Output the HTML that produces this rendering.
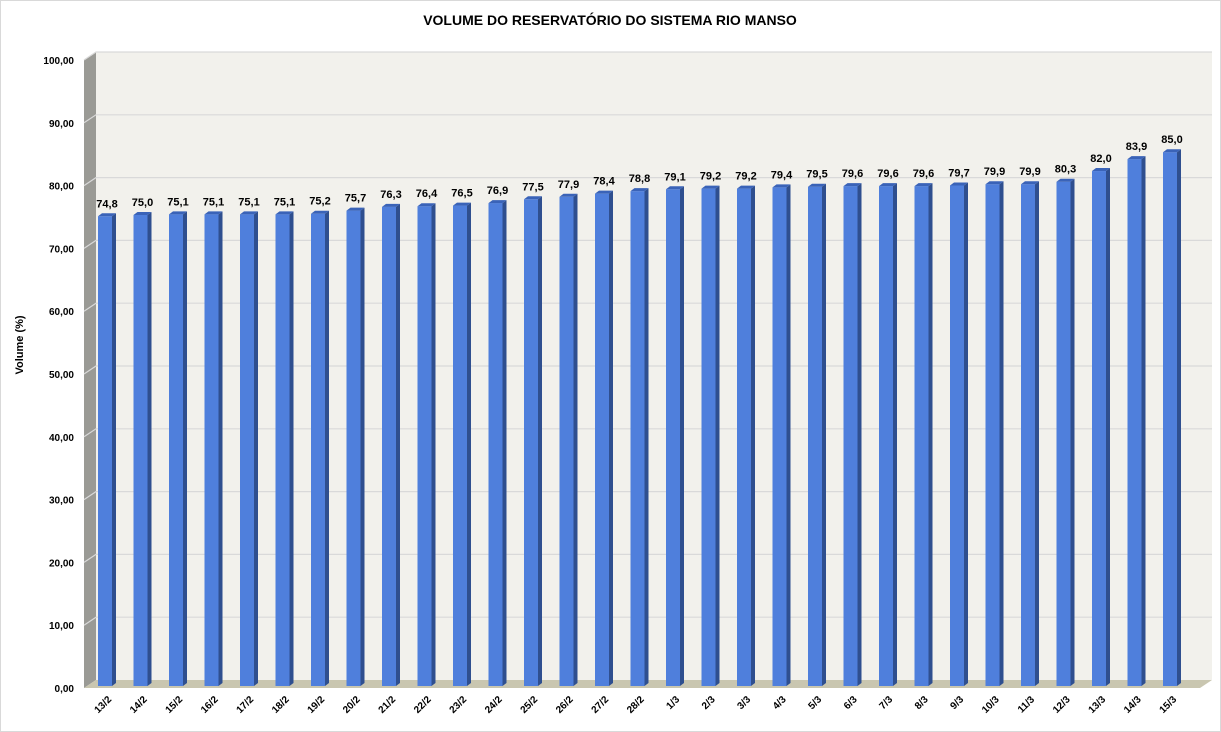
<!DOCTYPE html>
<html><head><meta charset="utf-8"><style>
body{margin:0;background:#fff}
svg{display:block;font-family:"Liberation Sans",sans-serif}
</style></head><body>
<svg width="1221" height="732" viewBox="0 0 1221 732">
<rect x="0.5" y="0.5" width="1220" height="731" fill="#fff" stroke="#d9d9d9"/>
<text x="610" y="25" text-anchor="middle" font-size="14" font-weight="bold">VOLUME DO RESERVATÓRIO DO SISTEMA RIO MANSO</text>
<text transform="translate(23,345) rotate(-90)" text-anchor="middle" font-size="11" font-weight="bold">Volume (%)</text>
<!-- back wall -->
<rect x="96" y="52" width="1116" height="628" fill="#f2f1ec"/>
<!-- side wall -->
<polygon points="84,60 96,52 96,680 84,688" fill="#9a9a95"/>
<!-- floor -->
<polygon points="84,688 96,680 1212,680 1200,688" fill="#c9c6b0"/>
<g id="grid" stroke="#d9d9d9" stroke-width="1.2" fill="none"></g>
<g id="ylab" font-size="10" font-weight="bold" text-anchor="end"></g>
<g id="bars"></g>
<g id="xl" font-size="10" font-weight="bold" text-anchor="end"></g>
</svg>
<script>
const ns="http://www.w3.org/2000/svg";
function el(p,t,a,txt){const e=document.createElementNS(ns,t);for(const k in a)e.setAttribute(k,a[k]);if(txt!=null)e.textContent=txt;p.appendChild(e);return e;}
const g=document.getElementById('grid'),yl=document.getElementById('ylab'),b=document.getElementById('bars'),xl=document.getElementById('xl');
for(let i=0;i<=10;i++){const yb=680-i*62.8,yf=688-i*62.8;
 if(i>0){el(g,'polyline',{points:`84,${yf} 96,${yb} 1212,${yb}`});}
 el(yl,'text',{x:74,y:yf+4},(i*10)+',00');}
const vals=[74.8,75.0,75.1,75.1,75.1,75.1,75.2,75.7,76.3,76.4,76.5,76.9,77.5,77.9,78.4,78.8,79.1,79.2,79.2,79.4,79.5,79.6,79.6,79.6,79.7,79.9,79.9,80.3,82.0,83.9,85.0];
const labs=[];for(let d=13;d<=28;d++)labs.push(d+'/2');for(let d=1;d<=15;d++)labs.push(d+'/3');
vals.forEach((v,i)=>{const x=98+i*35.5,base=686,top=base-v*6.28,w=14,dx=4,dy=3;
 el(b,'rect',{x:x,y:top,width:w,height:base-top,fill:'#4f7fdc'});
 el(b,'polygon',{points:`${x+w},${top} ${x+w+dx},${top-dy} ${x+w+dx},${base-dy} ${x+w},${base}`,fill:'#2f4f8f'});
 el(b,'polygon',{points:`${x},${top} ${x+dx},${top-dy} ${x+w+dx},${top-dy} ${x+w},${top}`,fill:'#3a63b8'});
 el(b,'text',{x:x+9,y:top-9,'text-anchor':'middle','font-size':11,'font-weight':'bold'},v.toFixed(1).replace('.',','));
 el(xl,'text',{transform:`translate(${x+14},${700}) rotate(-45)`},labs[i]);
});
</script>
</body></html>
